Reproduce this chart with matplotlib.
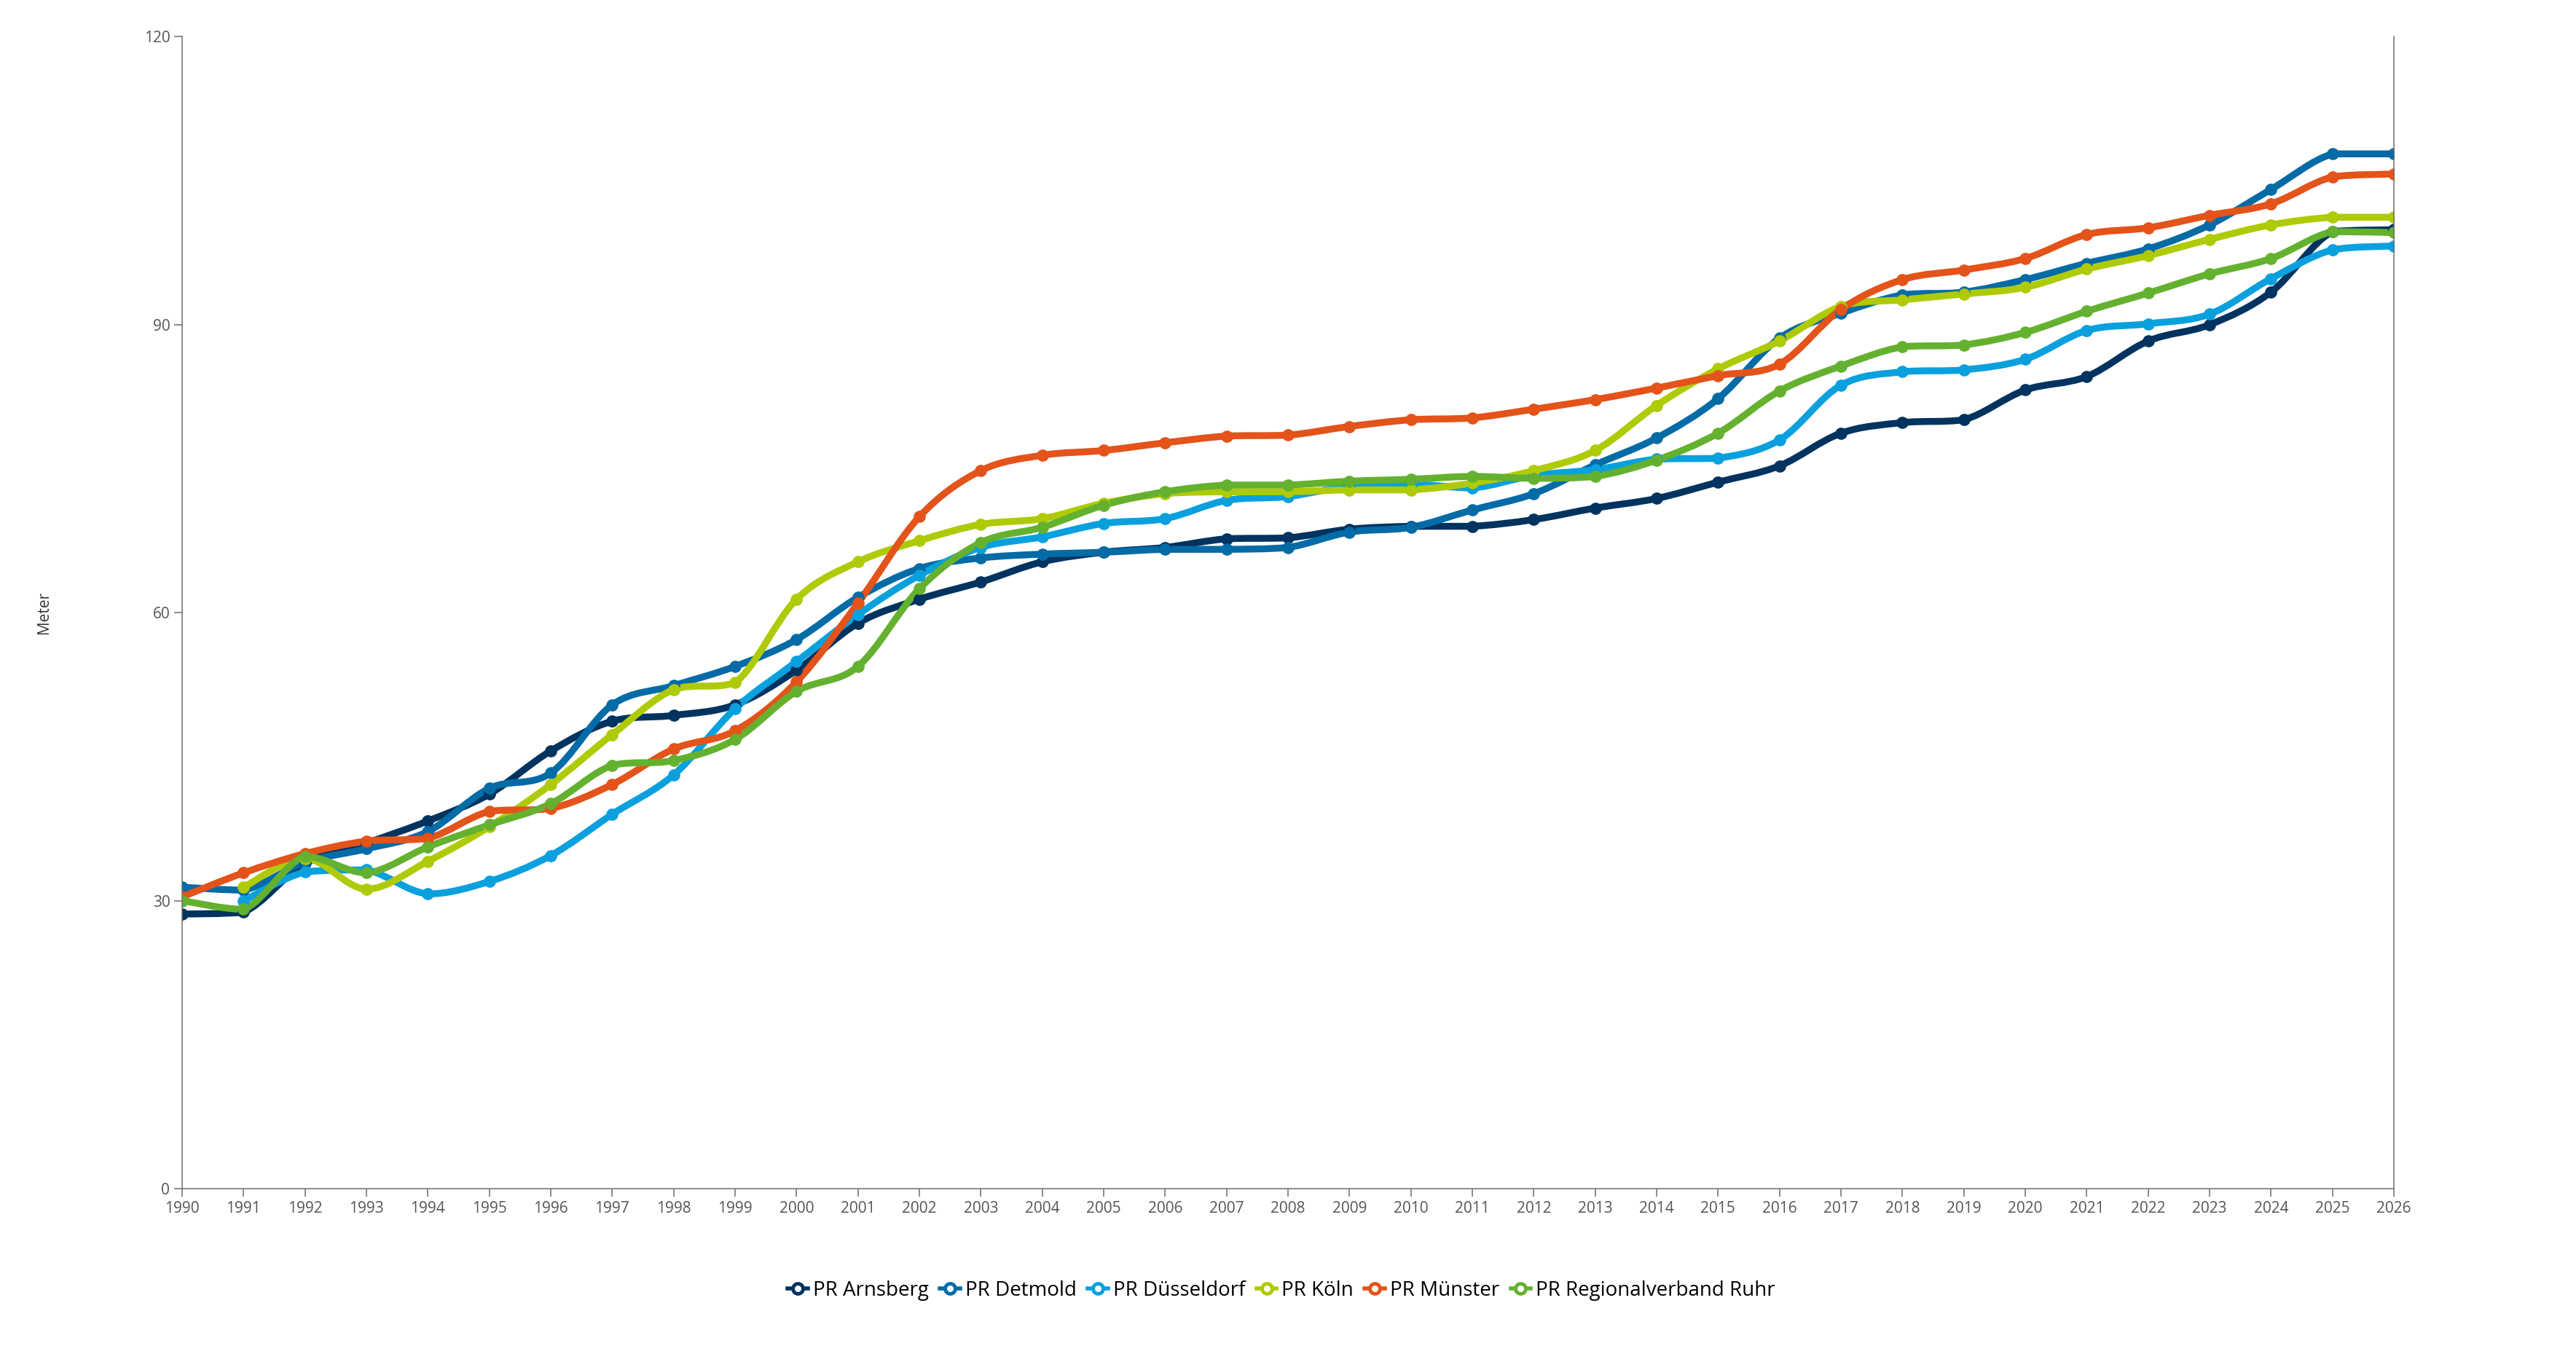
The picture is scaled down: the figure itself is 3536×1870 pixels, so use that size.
import matplotlib
matplotlib.use("Agg")
import matplotlib.pyplot as plt
from matplotlib.path import Path
from matplotlib.patches import PathPatch
from matplotlib.lines import Line2D

plt.rcParams['font.family'] = ['Open Sans', 'DejaVu Sans']

years = list(range(1990, 2027))
years_from_1991 = list(range(1991, 2027))

arnsberg = [28.6, 28.8, 33.9, 36.0, 38.3, 41.1, 45.6, 48.7, 49.3, 50.4,
            54.0, 58.9, 61.4, 63.2, 65.3, 66.3, 66.8, 67.7, 67.8, 68.7,
            69.0, 69.0, 69.7, 70.9, 71.9, 73.6, 75.3, 78.7, 79.8, 80.1,
            83.2, 84.6, 88.3, 90.0, 93.4, 99.7, 99.9]
detmold = [31.4, 31.1, 34.0, 35.4, 37.2, 41.7, 43.3, 50.4, 52.4, 54.4,
           57.2, 61.6, 64.6, 65.7, 66.1, 66.3, 66.6, 66.6, 66.8, 68.4,
           68.9, 70.7, 72.4, 75.4, 78.2, 82.3, 88.6, 91.2, 93.1, 93.4,
           94.7, 96.4, 97.9, 100.4, 104.1, 107.8, 107.8]
duesseldorf = [30.0, 33.0, 33.2, 30.7, 32.0, 34.7, 39.0, 43.1, 50.0,
               54.9, 59.8, 63.9, 66.8, 67.9, 69.3, 69.8, 71.7, 72.1, 73.2,
               73.4, 73.0, 74.3, 74.9, 76.0, 76.1, 78.0, 83.7, 85.1, 85.3,
               86.4, 89.4, 90.1, 91.1, 94.8, 97.8, 98.2]
koeln = [31.4, 34.4, 31.2, 34.1, 37.7, 42.1, 47.3, 52.0, 52.7,
         61.4, 65.3, 67.5, 69.2, 69.8, 71.4, 72.4, 72.6, 72.6, 72.8,
         72.8, 73.5, 74.8, 76.9, 81.6, 85.4, 88.3, 91.9, 92.6, 93.2,
         93.9, 95.8, 97.2, 98.9, 100.4, 101.2, 101.2]
muenster = [30.4, 32.9, 34.9, 36.2, 36.5, 39.3, 39.6, 42.1, 45.8, 47.7,
            52.8, 61.0, 70.0, 74.8, 76.4, 76.9, 77.7, 78.4, 78.5, 79.4,
            80.1, 80.3, 81.2, 82.2, 83.4, 84.7, 85.9, 91.6, 94.7, 95.7,
            96.9, 99.4, 100.1, 101.4, 102.6, 105.4, 105.7]
ruhr = [30.0, 29.1, 34.6, 32.9, 35.6, 37.9, 40.1, 44.1, 44.6, 46.8,
        51.8, 54.4, 62.5, 67.3, 68.9, 71.2, 72.6, 73.3, 73.3, 73.7,
        73.9, 74.2, 74.0, 74.2, 75.9, 78.7, 83.1, 85.7, 87.7, 87.9,
        89.2, 91.4, 93.3, 95.3, 96.9, 99.7, 99.6]

series = [
    ("PR Arnsberg", years, arnsberg, "#00335f"),
    ("PR Detmold", years, detmold, "#046ba6"),
    ("PR Düsseldorf", years_from_1991, duesseldorf, "#0aa0de"),
    ("PR Köln", years_from_1991, koeln, "#afca06"),
    ("PR Münster", years, muenster, "#e3531a"),
    ("PR Regionalverband Ruhr", years, ruhr, "#64b12f"),
]


def smooth_path(xs, ys):
    # catmull-rom as bezier, control points kept inside each segment's y range
    n = len(xs)
    verts = [(xs[0], ys[0])]
    codes = [Path.MOVETO]
    for i in range(n - 1):
        x0, y0 = (xs[i - 1], ys[i - 1]) if i > 0 else (xs[i], ys[i])
        x1, y1 = xs[i], ys[i]
        x2, y2 = xs[i + 1], ys[i + 1]
        x3, y3 = (xs[i + 2], ys[i + 2]) if i + 2 < n else (x2, y2)
        lo, hi = min(y1, y2), max(y1, y2)
        c1x = x1 + (x2 - x0) / 6
        c1y = min(max(y1 + (y2 - y0) / 6, lo), hi)
        c2x = x2 - (x3 - x1) / 6
        c2y = min(max(y2 - (y3 - y1) / 6, lo), hi)
        verts += [(c1x, c1y), (c2x, c2y), (x2, y2)]
        codes += [Path.CURVE4] * 3
    return Path(verts, codes)


fig = plt.figure(figsize=(35.36, 18.70), dpi=100)
ax = fig.add_axes([0.0707, 0.1273, 0.8586, 0.8457])

for name, xs, ys, col in series:
    patch = PathPatch(smooth_path(xs, ys), facecolor="none", edgecolor=col,
                      lw=6.8, capstyle="round", joinstyle="round")
    ax.add_patch(patch)
    ax.plot(xs, ys, "o", color=col, markersize=11, zorder=patch.get_zorder() + 0.01)

ax.set_xlim(1990, 2026)
ax.set_ylim(0, 120)
ax.set_xticks(years)
ax.set_yticks([0, 30, 60, 90, 120])

for side in ["left", "bottom", "right"]:
    ax.spines[side].set_color("#6e6e6e")
    ax.spines[side].set_linewidth(1.1)
ax.spines["top"].set_visible(False)
ax.tick_params(axis="both", colors="#6e6e6e", length=8, width=1.1,
               labelsize=15, labelcolor="#555555", pad=4)

ax.set_ylabel("Meter", fontsize=15, color="#333333")
ax.yaxis.set_label_coords(-0.059, 0.5)

handles = [Line2D([0], [0], color=col, lw=4, marker="o", markersize=10,
                  markerfacecolor="white", markeredgewidth=3.5, markeredgecolor=col)
           for _, _, _, col in series]
labels = [s[0] for s in series]
fig.legend(handles, labels, loc="center", bbox_to_anchor=(0.4975, 0.0525), ncol=6,
           frameon=False, fontsize=20, handlelength=1.0, handletextpad=0.25,
           columnspacing=0.55)

fig.savefig("out.png", dpi=100, facecolor="white")
